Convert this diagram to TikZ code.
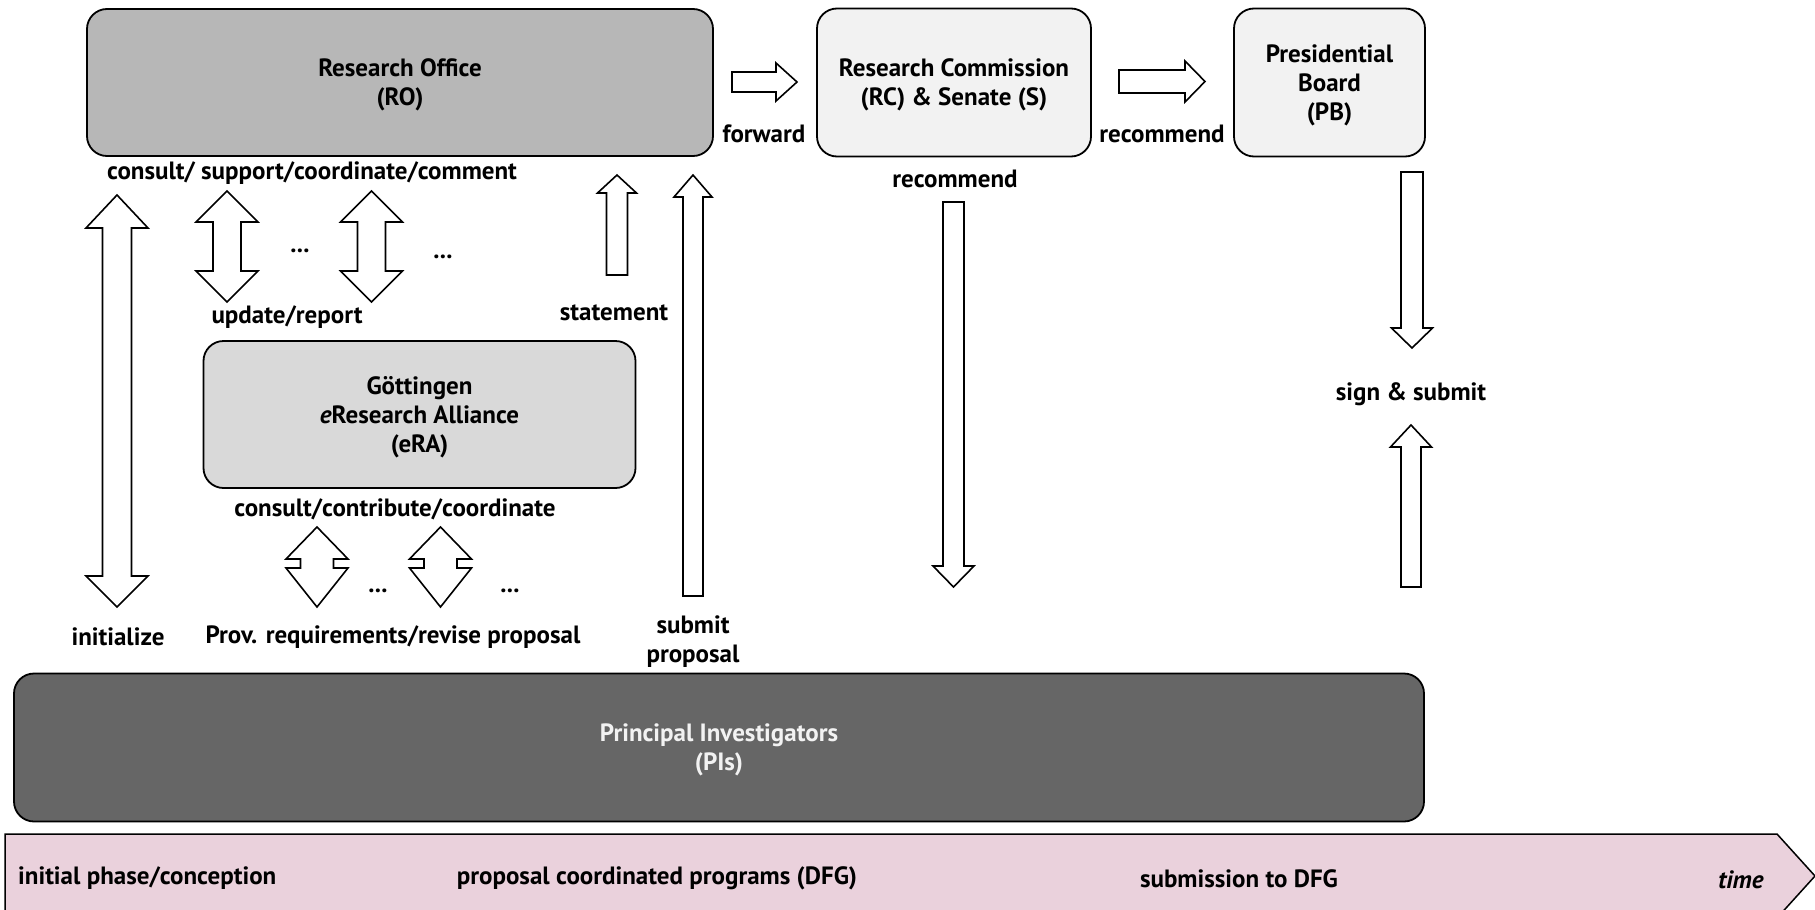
\documentclass[tikz,border=0pt]{standalone}
\usepackage{fontspec}
\setmainfont{PT Sans}
\definecolor{rofill}{HTML}{B7B7B7}
\definecolor{lightfill}{HTML}{F2F2F2}
\definecolor{erafill}{HTML}{D9D9D9}
\definecolor{pifill}{HTML}{666666}
\definecolor{timefill}{HTML}{EAD1DC}
\newcommand\myup[6]{\draw[blk] ({#1-#5},#4) -- ({#1-#5},#3) -- ({#1-#6},#3) -- (#1,#2) -- ({#1+#6},#3) -- ({#1+#5},#3) -- ({#1+#5},#4) -- cycle;}
\newcommand\mydown[6]{\draw[blk] ({#1-#5},#2) -- ({#1-#5},#3) -- ({#1-#6},#3) -- (#1,#4) -- ({#1+#6},#3) -- ({#1+#5},#3) -- ({#1+#5},#2) -- cycle;}
\newcommand\mydbl[7]{\draw[blk] (#1,#2) -- ({#1+#7},#3) -- ({#1+#6},#3) -- ({#1+#6},#4) -- ({#1+#7},#4) -- (#1,#5) -- ({#1-#7},#4) -- ({#1-#6},#4) -- ({#1-#6},#3) -- ({#1-#7},#3) -- cycle;}
\newcommand\myright[6]{\draw[blk] (#2,{#1-#5}) -- (#3,{#1-#5}) -- (#3,{#1-#6}) -- (#4,#1) -- (#3,{#1+#6}) -- (#3,{#1+#5}) -- (#2,{#1+#5}) -- cycle;}
\begin{document}
\begin{tikzpicture}[x=1pt,y=-1pt,
  box/.style={draw=black, line width=1.8pt, rounded corners=20pt, inner sep=0pt},
  lbl/.style={align=center, font=\bfseries\fontsize{25}{29}\selectfont, inner sep=0pt, yshift=-2.5pt},
  blk/.style={draw=black, fill=white, line width=1.6pt, line join=miter}]
\useasboundingbox (0,0) rectangle (1815,910);

% boxes
\node[box, fill=rofill, minimum width=626pt, minimum height=147pt,
  label={[lbl]center:Research Office\\(RO)}] (ro) at (400,82.5) {};
\node[box, fill=lightfill, minimum width=274pt, minimum height=148pt,
  label={[lbl]center:Research Commission\\(RC) \& Senate (S)}] (rc) at (954,82.5) {};
\node[box, fill=lightfill, minimum width=191pt, minimum height=148pt,
  label={[lbl]center:Presidential\\Board\\(PB)}] (pb) at (1329.5,82.5) {};
\node[box, fill=erafill, minimum width=432pt, minimum height=147pt,
  label={[lbl]center:Göttingen\\\textit{e}Research Alliance\\(eRA)}] (era) at (419.5,414.5) {};
\node[box, fill=pifill, minimum width=1410pt, minimum height=148pt,
  label={[lbl, text=lightfill]center:Principal Investigators\\(PIs)}] (pi) at (719,747.5) {};

% timeline
\draw[line width=1.5pt, fill=timefill] (5,918) -- (5,834) -- (1777,834) -- (1815,876) -- (1777,918);
\node[lbl, anchor=west] (t1) at (18,876) {initial phase/conception};
\node[lbl] (t2) at (657,876) {proposal coordinated programs (DFG)};
\node[lbl] (t3) at (1239,876) {submission to DFG};
\node[lbl] (t4) at (1741,877) {\textit{time}};

% horizontal arrows
\myright{82}{732}{776}{797}{10}{19}
\myright{81.5}{1119}{1185}{1205}{11.5}{20.5}
\node[lbl] (fw) at (764,131) {forward};
\node[lbl] (rec1) at (1162,131) {recommend};
\node[lbl] (rec2) at (955,176) {recommend};

% RC / PB arrows
\mydown{953.5}{202}{566}{587}{10.5}{20.5}
\mydown{1412}{172}{328}{348}{11}{20.5}
\myup{1411}{425}{447}{587}{10}{20.5}
\node[lbl] (sign) at (1411,392) {sign \& submit};

% left arrows
\mydbl{117}{195}{228}{576}{607}{14.5}{31}
\mydbl{227}{191}{222}{271}{302}{14}{31}
\mydbl{371.5}{191}{222}{271}{302}{14}{31}
\myup{617}{175}{193}{275}{10.5}{19.5}
\myup{693}{175}{197}{596}{10}{19}
\mydbl{317}{527}{559}{568}{607}{16.5}{31}
\mydbl{440.5}{527}{559}{568}{607}{16.5}{31}

% labels
\node[lbl] (cons) at (312,171) {consult/ support/coordinate/comment};
\node[lbl] (d1) at (300,248) {...};
\node[lbl] (d2) at (443,254) {...};
\node[lbl] (upd) at (287,315) {update/report};
\node[lbl] (stm) at (614,310) {statement};
\node[lbl] (ccc) at (395,507) {consult/contribute/coordinate};
\node[lbl] (d3) at (378,588) {...};
\node[lbl] (d4) at (510,588) {...};
\node[lbl] (init) at (118,634) {initialize};
\node[lbl] (prov) at (393,635) {Prov. requirements/revise proposal};
\node[lbl] (sub) at (693,639) {submit\\proposal};
\end{tikzpicture}
\end{document}
